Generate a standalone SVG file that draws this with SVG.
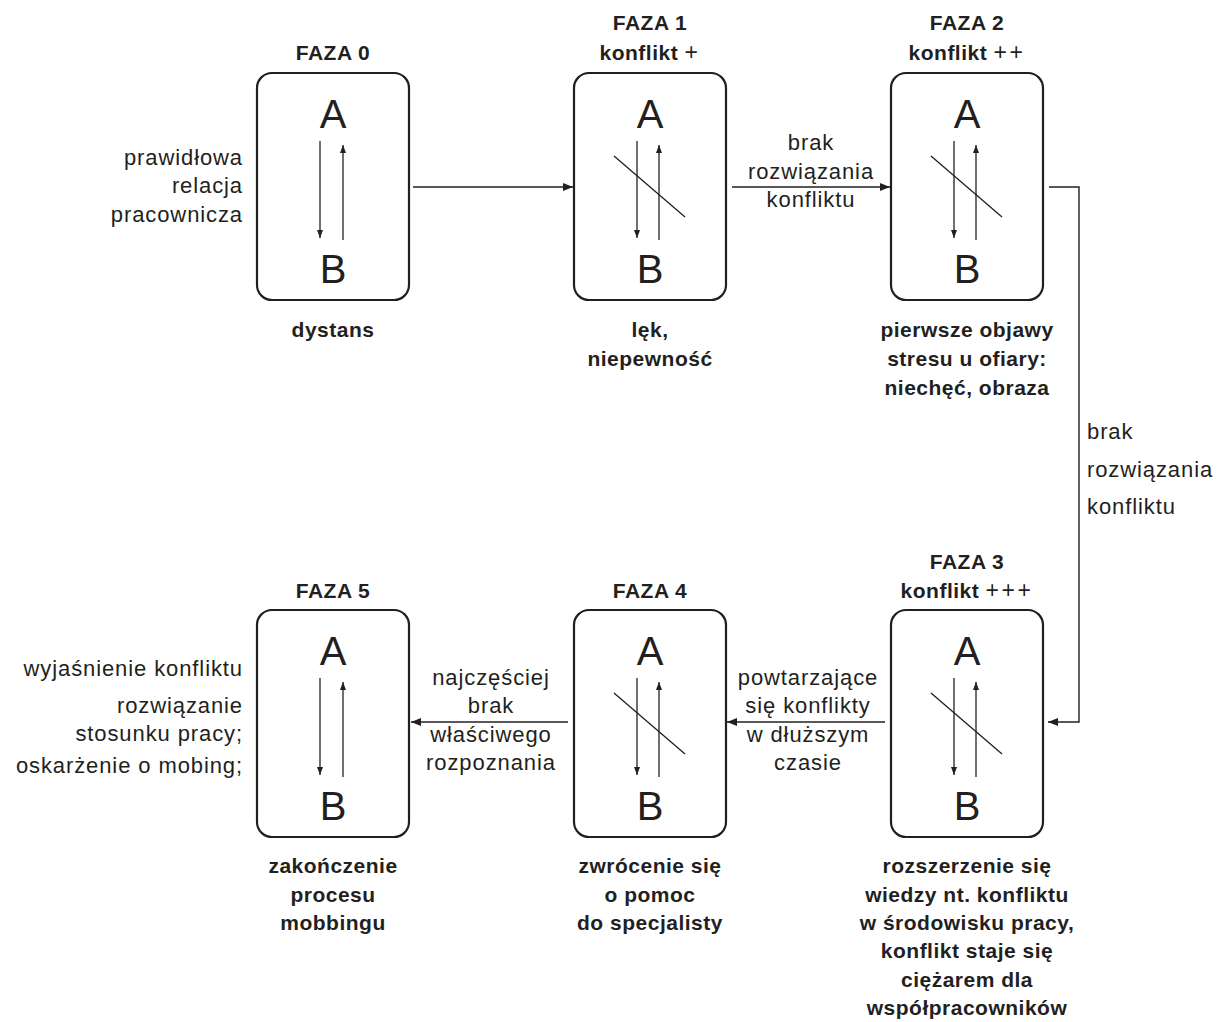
<svg xmlns="http://www.w3.org/2000/svg" width="1219" height="1022" viewBox="0 0 1219 1022">
<style>
.box{fill:#fff;stroke:#231f20;stroke-width:2.2}
.ab{font-family:"Liberation Sans",Arial,sans-serif;font-size:40px;fill:#231f20;text-anchor:middle}
.t{font-family:"Liberation Sans",Arial,sans-serif;font-size:21px;font-weight:bold;fill:#231f20;text-anchor:middle;letter-spacing:0.5px}
.r{font-family:"Liberation Sans",Arial,sans-serif;font-size:22px;fill:#231f20;letter-spacing:0.9px}
.m{text-anchor:middle}
.e{text-anchor:end}
.p{font-weight:normal;font-size:23px;letter-spacing:2.5px}
.in{stroke:#231f20;stroke-width:1.3;fill:none}
.con{stroke:#231f20;stroke-width:1.4;fill:none}
</style>
<defs>
<marker id="ah" markerUnits="userSpaceOnUse" markerWidth="10" markerHeight="8" refX="10" refY="4" orient="auto">
<path d="M0,0 L10,4 L0,8 z" fill="#231f20"/>
</marker>
<marker id="ai" markerUnits="userSpaceOnUse" markerWidth="8" markerHeight="6" refX="8" refY="3" orient="auto">
<path d="M0,0 L8,3 L0,6 z" fill="#231f20"/>
</marker>
</defs>

<g id="connectors">
<line class="con" x1="413" y1="187" x2="573" y2="187" marker-end="url(#ah)"/>
<line class="con" x1="732" y1="187" x2="890" y2="187" marker-end="url(#ah)"/>
<polyline class="con" points="1049,187 1079,187 1079,722 1048,722" marker-end="url(#ah)"/>
<line class="con" x1="885" y1="722" x2="727" y2="722" marker-end="url(#ah)"/>
<line class="con" x1="568" y1="722" x2="411" y2="722" marker-end="url(#ah)"/>
<text class="r m" x="811" y="150">brak</text>
<text class="r m" x="811" y="179">rozwiązania</text>
<text class="r m" x="811" y="207">konfliktu</text>
<text class="r" x="1087" y="439">brak</text>
<text class="r" x="1087" y="477">rozwiązania</text>
<text class="r" x="1087" y="514">konfliktu</text>
<text class="r m" x="808" y="685">powtarzające</text>
<text class="r m" x="808" y="713">się konflikty</text>
<text class="r m" x="808" y="742">w dłuższym</text>
<text class="r m" x="808" y="770">czasie</text>
<text class="r m" x="491" y="685">najczęściej</text>
<text class="r m" x="491" y="713">brak</text>
<text class="r m" x="491" y="742">właściwego</text>
<text class="r m" x="491" y="770">rozpoznania</text>
</g>

<g id="faza0">
<text class="t" x="333" y="60">FAZA 0</text>
<rect class="box" x="257" y="73" width="152" height="227" rx="15"/>
<text class="ab" x="333" y="128">A</text>
<text class="ab" x="333" y="283">B</text>
<line class="in" x1="320" y1="141" x2="320" y2="238" marker-end="url(#ai)"/>
<line class="in" x1="343" y1="240" x2="343" y2="145" marker-end="url(#ai)"/>
<text class="t" x="333" y="337">dystans</text>
<text class="r e" x="243" y="165">prawidłowa</text>
<text class="r e" x="243" y="193">relacja</text>
<text class="r e" x="243" y="222">pracownicza</text>
</g>

<g id="faza1">
<text class="t" x="650" y="30">FAZA 1</text>
<text class="t" x="650" y="60">konflikt <tspan class="p">+</tspan></text>
<rect class="box" x="574" y="73" width="152" height="227" rx="15"/>
<text class="ab" x="650" y="128">A</text>
<text class="ab" x="650" y="283">B</text>
<line class="in" x1="637" y1="141" x2="637" y2="238" marker-end="url(#ai)"/>
<line class="in" x1="659" y1="240" x2="659" y2="145" marker-end="url(#ai)"/>
<line class="in" x1="614" y1="156" x2="685" y2="217"/>
<text class="t" x="650" y="337">lęk,</text>
<text class="t" x="650" y="366">niepewność</text>
</g>

<g id="faza2">
<text class="t" x="967" y="30">FAZA 2</text>
<text class="t" x="967" y="60">konflikt <tspan class="p">++</tspan></text>
<rect class="box" x="891" y="73" width="152" height="227" rx="15"/>
<text class="ab" x="967" y="128">A</text>
<text class="ab" x="967" y="283">B</text>
<line class="in" x1="954" y1="141" x2="954" y2="238" marker-end="url(#ai)"/>
<line class="in" x1="976" y1="240" x2="976" y2="145" marker-end="url(#ai)"/>
<line class="in" x1="931" y1="156" x2="1002" y2="217"/>
<text class="t" x="967" y="337">pierwsze objawy</text>
<text class="t" x="967" y="366">stresu u ofiary:</text>
<text class="t" x="967" y="395">niechęć, obraza</text>
</g>

<g id="faza3">
<text class="t" x="967" y="569">FAZA 3</text>
<text class="t" x="967" y="598">konflikt <tspan class="p">+++</tspan></text>
<rect class="box" x="891" y="610" width="152" height="227" rx="15"/>
<text class="ab" x="967" y="665">A</text>
<text class="ab" x="967" y="820">B</text>
<line class="in" x1="954" y1="678" x2="954" y2="775" marker-end="url(#ai)"/>
<line class="in" x1="976" y1="777" x2="976" y2="682" marker-end="url(#ai)"/>
<line class="in" x1="931" y1="693" x2="1002" y2="754"/>
<text class="t" x="967" y="873">rozszerzenie się</text>
<text class="t" x="967" y="902">wiedzy nt. konfliktu</text>
<text class="t" x="967" y="930">w środowisku pracy,</text>
<text class="t" x="967" y="958">konflikt staje się</text>
<text class="t" x="967" y="987">ciężarem dla</text>
<text class="t" x="967" y="1015">współpracowników</text>
</g>

<g id="faza4">
<text class="t" x="650" y="598">FAZA 4</text>
<rect class="box" x="574" y="610" width="152" height="227" rx="15"/>
<text class="ab" x="650" y="665">A</text>
<text class="ab" x="650" y="820">B</text>
<line class="in" x1="637" y1="678" x2="637" y2="775" marker-end="url(#ai)"/>
<line class="in" x1="659" y1="777" x2="659" y2="682" marker-end="url(#ai)"/>
<line class="in" x1="614" y1="693" x2="685" y2="754"/>
<text class="t" x="650" y="873">zwrócenie się</text>
<text class="t" x="650" y="902">o pomoc</text>
<text class="t" x="650" y="930">do specjalisty</text>
</g>

<g id="faza5">
<text class="t" x="333" y="598">FAZA 5</text>
<rect class="box" x="257" y="610" width="152" height="227" rx="15"/>
<text class="ab" x="333" y="665">A</text>
<text class="ab" x="333" y="820">B</text>
<line class="in" x1="320" y1="678" x2="320" y2="775" marker-end="url(#ai)"/>
<line class="in" x1="343" y1="777" x2="343" y2="682" marker-end="url(#ai)"/>
<text class="t" x="333" y="873">zakończenie</text>
<text class="t" x="333" y="902">procesu</text>
<text class="t" x="333" y="930">mobbingu</text>
<text class="r e" x="243" y="676">wyjaśnienie konfliktu</text>
<text class="r e" x="243" y="713">rozwiązanie</text>
<text class="r e" x="243" y="741">stosunku pracy;</text>
<text class="r e" x="243" y="773">oskarżenie o mobing;</text>
</g>
</svg>
